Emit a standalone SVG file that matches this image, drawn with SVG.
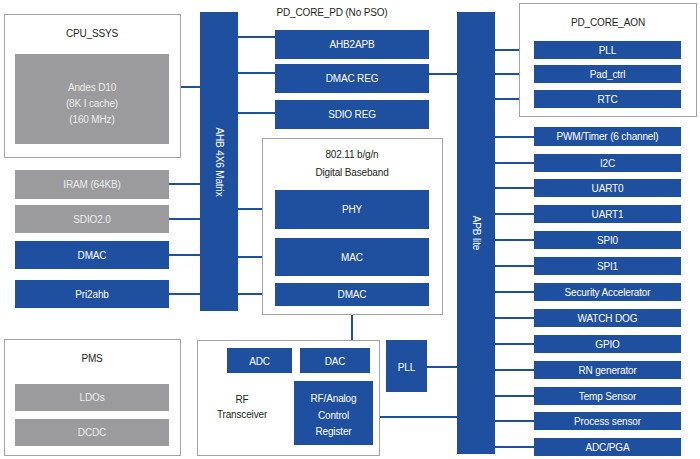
<svg xmlns="http://www.w3.org/2000/svg" width="700" height="459" viewBox="0 0 700 459">
<style>
text{font-family:"Liberation Sans",Arial,sans-serif;font-size:10px;text-anchor:middle;letter-spacing:-0.15px}
.cont{fill:#fff;stroke:#a3a3a3;stroke-width:1}
.blue{fill:#1f4f9f}
.grey{fill:#9b9b9d}
.wt{fill:#fff}
.lt{fill:#ececec}
.dk{fill:#231f20}
.c{stroke:#1f4f9f;stroke-width:2;fill:none}
</style>
<rect width="700" height="459" fill="#fff"/>
<g id="connectors">
<line class="c" x1="180" y1="87" x2="200" y2="87"/>
<line class="c" x1="169" y1="184" x2="200" y2="184"/>
<line class="c" x1="169" y1="219" x2="200" y2="219"/>
<line class="c" x1="169" y1="255" x2="200" y2="255"/>
<line class="c" x1="169" y1="294" x2="200" y2="294"/>
<line class="c" x1="238" y1="37" x2="275" y2="37"/>
<line class="c" x1="238" y1="73" x2="275" y2="73"/>
<line class="c" x1="238" y1="113" x2="275" y2="113"/>
<line class="c" x1="429" y1="74" x2="457" y2="74"/>
<line class="c" x1="238" y1="209" x2="275" y2="209"/>
<line class="c" x1="238" y1="257" x2="275" y2="257"/>
<line class="c" x1="238" y1="294" x2="275" y2="294"/>
<line class="c" x1="352" y1="314" x2="352" y2="340"/>
<line class="c" x1="427" y1="367" x2="457" y2="367"/>
<line class="c" x1="373" y1="417" x2="457" y2="417"/>
<line class="c" x1="495" y1="50" x2="534" y2="50"/>
<line class="c" x1="495" y1="74" x2="534" y2="74"/>
<line class="c" x1="495" y1="99" x2="534" y2="99"/>
<line class="c" x1="495" y1="137" x2="534" y2="137"/>
<line class="c" x1="495" y1="163" x2="534" y2="163"/>
<line class="c" x1="495" y1="188" x2="534" y2="188"/>
<line class="c" x1="495" y1="214" x2="534" y2="214"/>
<line class="c" x1="495" y1="240" x2="534" y2="240"/>
<line class="c" x1="495" y1="266" x2="534" y2="266"/>
<line class="c" x1="495" y1="292" x2="534" y2="292"/>
<line class="c" x1="495" y1="318" x2="534" y2="318"/>
<line class="c" x1="495" y1="344" x2="534" y2="344"/>
<line class="c" x1="495" y1="370" x2="534" y2="370"/>
<line class="c" x1="495" y1="396" x2="534" y2="396"/>
<line class="c" x1="495" y1="421" x2="534" y2="421"/>
<line class="c" x1="495" y1="447" x2="534" y2="447"/>
</g>
<g id="cpu_ssys">
<rect class="cont" x="4.5" y="14.5" width="176" height="143"/>
<text class="dk" x="92" y="37">CPU_SSYS</text>
</g>
<g id="andes">
<rect class="grey" x="15" y="54" width="154" height="90"/>
<text class="lt" x="92" y="91">Andes D10</text>
<text class="lt" x="92" y="107">(8K I cache)</text>
<text class="lt" x="92" y="123">(160 MHz)</text>
</g>
<g id="iram"><rect class="grey" x="15" y="170" width="154" height="29"/><text class="lt" x="92" y="188">IRAM (64KB)</text></g>
<g id="sdio20"><rect class="grey" x="15" y="205" width="154" height="28"/><text class="lt" x="92" y="223">SDIO2.0</text></g>
<g id="dmac_l"><rect class="blue" x="15" y="241" width="154" height="28"/><text class="wt" x="92" y="259">DMAC</text></g>
<g id="pri2ahb"><rect class="blue" x="15" y="280" width="154" height="28"/><text class="wt" x="92" y="298">Pri2ahb</text></g>
<g id="pms">
<rect class="cont" x="4.5" y="339.5" width="176" height="116"/>
<text class="dk" x="92" y="362">PMS</text>
</g>
<g id="ldos"><rect class="grey" x="15" y="384" width="154" height="27"/><text class="lt" x="92" y="401">LDOs</text></g>
<g id="dcdc"><rect class="grey" x="15" y="419" width="154" height="27"/><text class="lt" x="92" y="436">DCDC</text></g>
<g id="ahb">
<rect class="blue" x="200" y="12" width="38" height="299"/>
<text class="wt" transform="translate(216,162) rotate(90)">AHB 4X6 Matrix</text>
</g>
<g id="pd_core_pd"><text class="dk" x="332" y="16">PD_CORE_PD (No PSO)</text></g>
<g id="ahb2apb"><rect class="blue" x="275" y="30" width="154" height="29"/><text class="wt" x="352" y="48">AHB2APB</text></g>
<g id="dmac_reg"><rect class="blue" x="275" y="64" width="154" height="29"/><text class="wt" x="352" y="82">DMAC REG</text></g>
<g id="sdio_reg"><rect class="blue" x="275" y="100" width="154" height="29"/><text class="wt" x="352" y="118">SDIO REG</text></g>
<g id="baseband">
<rect class="cont" x="262.5" y="138.5" width="180" height="176"/>
<text class="dk" x="352" y="158">802.11 b/g/n</text>
<text class="dk" x="352" y="176">Digital Baseband</text>
</g>
<g id="phy"><rect class="blue" x="275" y="190" width="154" height="39"/><text class="wt" x="352" y="213">PHY</text></g>
<g id="mac"><rect class="blue" x="275" y="238" width="154" height="38"/><text class="wt" x="352" y="261">MAC</text></g>
<g id="dmac_bb"><rect class="blue" x="275" y="283" width="154" height="23"/><text class="wt" x="352" y="298">DMAC</text></g>
<g id="rf">
<rect class="cont" x="197.5" y="340.5" width="182" height="115"/>
<text class="dk" x="242" y="403">RF</text>
<text class="dk" x="242" y="418">Transceiver</text>
</g>
<g id="adc"><rect class="blue" x="227" y="348" width="65" height="25"/><text class="wt" x="259.5" y="365">ADC</text></g>
<g id="dac"><rect class="blue" x="300" y="348" width="70" height="25"/><text class="wt" x="335" y="365">DAC</text></g>
<g id="rfctrl">
<rect class="blue" x="294" y="381" width="79" height="64"/>
<text class="wt" x="333.5" y="402">RF/Analog</text>
<text class="wt" x="333.5" y="419">Control</text>
<text class="wt" x="333.5" y="435">Register</text>
</g>
<g id="pll_rf"><rect class="blue" x="386" y="340" width="41" height="52"/><text class="wt" x="406.5" y="371">PLL</text></g>
<g id="apb">
<rect class="blue" x="457" y="12" width="38" height="442"/>
<text class="wt" transform="translate(473,233) rotate(90)">APB lite</text>
</g>
<g id="pd_core_aon">
<rect class="cont" x="519.5" y="3.5" width="177" height="113"/>
<text class="dk" x="608" y="26">PD_CORE_AON</text>
</g>
<g id="pll"><rect class="blue" x="534" y="41" width="147" height="18"/><text class="wt" x="607.5" y="54">PLL</text></g>
<g id="pad_ctrl"><rect class="blue" x="534" y="65" width="147" height="18"/><text class="wt" x="607.5" y="78">Pad_ctrl</text></g>
<g id="rtc"><rect class="blue" x="534" y="90" width="147" height="18"/><text class="wt" x="607.5" y="103">RTC</text></g>
<g id="pwm"><rect class="blue" x="534" y="127" width="147" height="19"/><text class="wt" x="607.5" y="140">PWM/Timer (6 channel)</text></g>
<g id="i2c"><rect class="blue" x="534" y="154" width="147" height="18"/><text class="wt" x="607.5" y="167">I2C</text></g>
<g id="uart0"><rect class="blue" x="534" y="179" width="147" height="18"/><text class="wt" x="607.5" y="192">UART0</text></g>
<g id="uart1"><rect class="blue" x="534" y="205" width="147" height="18"/><text class="wt" x="607.5" y="218">UART1</text></g>
<g id="spi0"><rect class="blue" x="534" y="231" width="147" height="18"/><text class="wt" x="607.5" y="244">SPI0</text></g>
<g id="spi1"><rect class="blue" x="534" y="257" width="147" height="18"/><text class="wt" x="607.5" y="270">SPI1</text></g>
<g id="security"><rect class="blue" x="534" y="283" width="147" height="18"/><text class="wt" x="607.5" y="296">Security Accelerator</text></g>
<g id="watchdog"><rect class="blue" x="534" y="309" width="147" height="18"/><text class="wt" x="607.5" y="322">WATCH DOG</text></g>
<g id="gpio"><rect class="blue" x="534" y="335" width="147" height="18"/><text class="wt" x="607.5" y="348">GPIO</text></g>
<g id="rn"><rect class="blue" x="534" y="361" width="147" height="18"/><text class="wt" x="607.5" y="374">RN generator</text></g>
<g id="temp"><rect class="blue" x="534" y="387" width="147" height="18"/><text class="wt" x="607.5" y="400">Temp Sensor</text></g>
<g id="process"><rect class="blue" x="534" y="412" width="147" height="18"/><text class="wt" x="607.5" y="425">Process sensor</text></g>
<g id="adcpga"><rect class="blue" x="534" y="438" width="147" height="18"/><text class="wt" x="607.5" y="451">ADC/PGA</text></g>
</svg>
